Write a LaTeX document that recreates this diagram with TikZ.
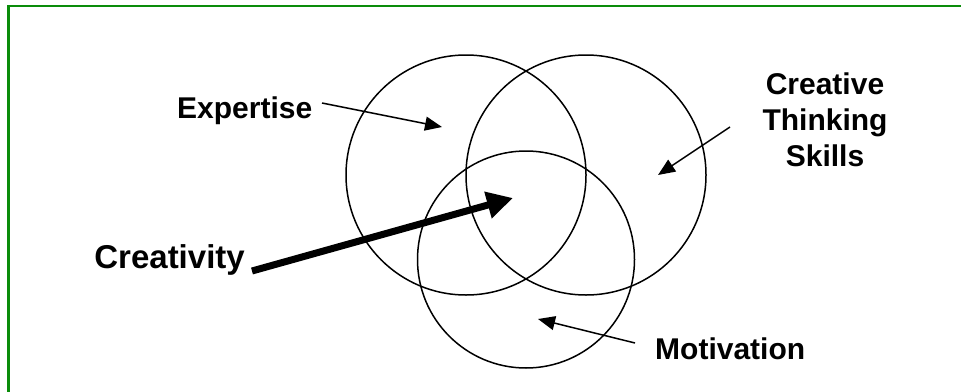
\documentclass[tikz,border=0pt]{standalone}
\usepackage{fontspec}
\setmainfont{Liberation Sans}
\usetikzlibrary{arrows.meta}
\definecolor{framegreen}{RGB}{10,140,10}
\tikzset{
  venn/.style={draw=black, line width=1.5pt},
  lbl/.style={font=\fontsize{30}{36}\selectfont\bfseries, inner sep=0pt},
  thin arrow/.style={line width=1.5pt, -{Triangle[length=17pt,width=14pt]}},
  big arrow/.style={line width=7pt, -{Triangle[length=26pt,width=26pt]}},
}
\begin{document}
\begin{tikzpicture}[x=1pt,y=-1pt]
\useasboundingbox (0,0) rectangle (961,391);
\begin{scope}
\clip (0,0) rectangle (961,391);
\draw[framegreen, line width=2.6pt] (8.5,6) rectangle (990,420);
\end{scope}
% circles
\node[venn, circle, minimum size=240pt, inner sep=0pt] (cexp) at (466,175) {};
\node[venn, circle, minimum size=240pt, inner sep=0pt] (ccts) at (586,175) {};
\node[venn, circle, minimum size=217pt, inner sep=0pt] (cmot) at (526,259.5) {};
% labels
\node[lbl, anchor=base west] (exp) at (177,118) {Expertise};
\node[lbl, anchor=base east, font=\fontsize{33}{40}\selectfont\bfseries] (cre) at (245,268) {Creativity};
\node[lbl, anchor=base west] (mot) at (655,359) {Motivation};
\node[lbl, align=center, anchor=north] (cts) at (825,73) {Creative\\Thinking\\Skills};
% arrow ends
\coordinate (expS) at (322,103);
\coordinate (expT) at (442,127);
\coordinate (ctsS) at (730,127);
\coordinate (ctsT) at (658,175);
\coordinate (motS) at (635,343);
\coordinate (motT) at (538,319);
\coordinate (creS) at (252,271);
\coordinate (creT) at (513,198);
\draw[thin arrow] (expS) -- (expT);
\draw[thin arrow] (ctsS) -- (ctsT);
\draw[thin arrow] (motS) -- (motT);
\draw[big arrow] (creS) -- (creT);
\end{tikzpicture}
\end{document}
